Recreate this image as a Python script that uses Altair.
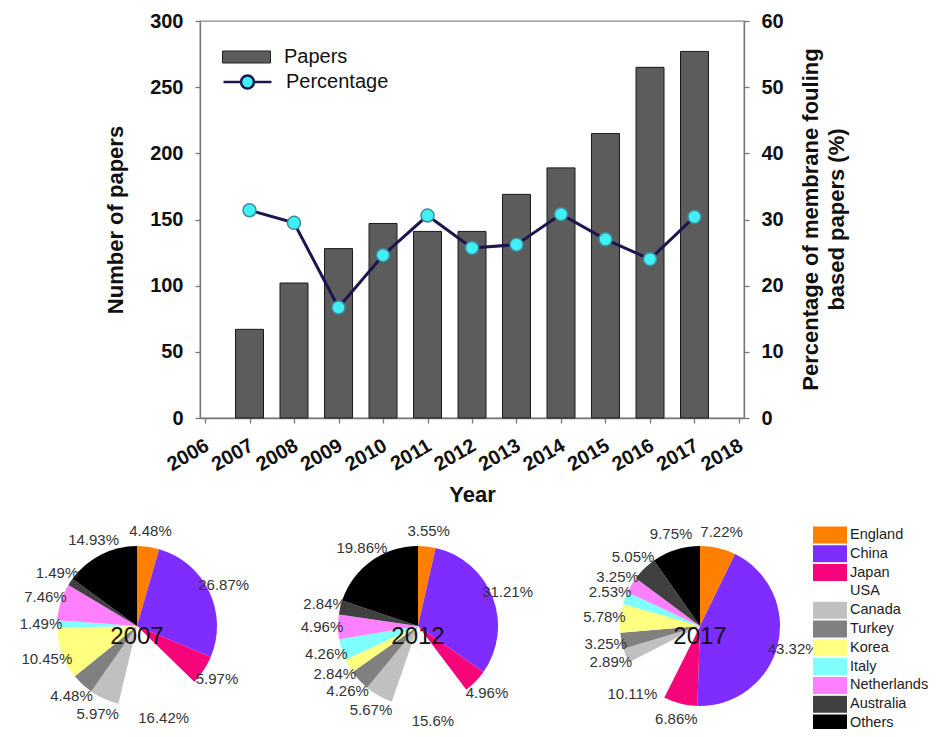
import altair as alt
import pandas as pd

# ---------------- data ----------------
years = list(range(2007, 2018))
papers = [67, 102, 128, 147, 141, 141, 169, 189, 215, 265, 277]
percentage = [31.4, 29.5, 16.7, 24.6, 30.6, 25.7, 26.2, 30.8, 27.0, 24.0, 30.4]
year_ticks = list(range(2006, 2019))
left_ticks = [0, 50, 100, 150, 200, 250, 300]
right_ticks = [0, 10, 20, 30, 40, 50, 60]

countries = ["England", "China", "Japan", "USA", "Canada", "Turkey",
             "Korea", "Italy", "Netherlands", "Australia", "Others"]
country_colors = ["#ff8000", "#7f2cff", "#f5047a", "#ffffff", "#c0c0c0", "#808080",
                  "#ffff80", "#80ffff", "#ff80ff", "#404040", "#000000"]
pie_years = [2007, 2012, 2017]
share_2007 = [4.48, 26.87, 5.97, 16.42, 5.97, 4.48, 10.45, 1.49, 7.46, 1.49, 14.93]
share_2012 = [3.55, 31.21, 4.96, 15.6, 5.67, 4.26, 2.84, 4.26, 4.96, 2.84, 19.86]
share_2017 = [7.22, 43.32, 6.86, 10.11, 2.89, 3.25, 5.78, 2.53, 3.25, 5.05, 9.75]

# ---------------- layout constants ----------------
W, H = 544, 397
PIE_CX = [-63, 218, 500]
PIE_CY = 605
PIE_R = 80
LABEL_R = 96

bar_df = pd.DataFrame({"Year": years, "Papers": papers, "series": ["Papers"] * len(years)})
line_df = pd.DataFrame({"Year": years, "Percentage": percentage,
                        "series": ["Percentage"] * len(years)})

x_enc = alt.X(
    "Year:Q",
    scale=alt.Scale(domain=[2006, 2018], nice=False, zero=False),
    axis=alt.Axis(values=year_ticks, format="d", title="Year",
                  labelAngle=330, labelAlign="right", labelBaseline="top",
                  labelFontSize=20, labelFontWeight="bold", labelColor="#111",
                  labelPadding=12, labelOffset=-3, tickSize=5, titleFontSize=22,
                  titleFontWeight="bold", titleColor="#111", titlePadding=10,
                  labelOverlap=False),
)

bars = alt.Chart(bar_df).mark_bar(size=28, stroke="#1a1a1a", strokeWidth=1).encode(
    x=x_enc,
    y=alt.Y("Papers:Q", scale=alt.Scale(domain=[0, 300], nice=False),
            axis=alt.Axis(orient="left", values=left_ticks, title="Number of papers",
                          labelFontSize=20, labelFontWeight="bold", labelColor="#111",
                          labelPadding=12, tickSize=5, titleFontSize=22,
                          titleFontWeight="bold", titleColor="#111", titlePadding=22)),
    fill=alt.Fill("series:N", scale=alt.Scale(domain=["Papers"], range=["#5c5c5c"]),
                  legend=alt.Legend(title=None, orient="none", legendX=22, legendY=26,
                                    symbolType="M-1,-0.25H1V0.25H-1Z", symbolSize=2304,
                                    symbolStrokeColor="#222", symbolStrokeWidth=1,
                                    labelFontSize=20, labelColor="#111", labelOffset=13,
                                    clipHeight=20, padding=0)),
)

line = alt.Chart(line_df).mark_line(strokeWidth=3).encode(
    x=x_enc,
    y=alt.Y("Percentage:Q", scale=alt.Scale(domain=[0, 60], nice=False),
            axis=alt.Axis(orient="right", values=right_ticks,
                          title=["Percentage of membrane fouling", "based papers (%)"],
                          labelFontSize=20, labelFontWeight="bold", labelColor="#111",
                          labelPadding=12, tickSize=5, titleFontSize=22,
                          titleFontWeight="bold", titleColor="#111", titleAngle=270,
                          titleBaseline="top", titleX=56, titleY=198,
                          titleLineHeight=26)),
    stroke=alt.Stroke("series:N", scale=alt.Scale(domain=["Percentage"], range=["#1c1650"]),
                      legend=alt.Legend(title=None, orient="none", legendX=22, legendY=51,
                                        symbolType="M-1,0H-0.27M0.27,0H1M0.27,0A0.27,0.27,0,1,1,-0.27,0A0.27,0.27,0,1,1,0.27,0Z",
                                        symbolSize=2304, symbolStrokeWidth=2.5,
                                        symbolFillColor="#3ff0f5",
                                        labelFontSize=20, labelColor="#111", labelOffset=13,
                                        clipHeight=20, padding=0)),
)

points = alt.Chart(line_df).mark_circle(size=170, color="#3ff0f5", opacity=1,
                                        stroke="#3d8f9c", strokeWidth=1.5).encode(
    x=x_enc,
    y=alt.Y("Percentage:Q", scale=alt.Scale(domain=[0, 60], nice=False), axis=None),
)

color_scale = alt.Scale(domain=countries, range=country_colors)
pie_layers = []
for i, (yr, shares) in enumerate(zip(pie_years, [share_2007, share_2012, share_2017])):
    df = pd.DataFrame({"country": countries, "share": shares, "idx": list(range(len(countries))),
                       "label": [f"{v}%" for v in shares]})
    cx = PIE_CX[i]
    base = alt.Chart(df).encode(
        theta=alt.Theta("share:Q", stack=True),
        order=alt.Order("idx:Q"),
        x=alt.value(cx), y=alt.value(PIE_CY),
    )
    if i == 0:
        col = alt.Color("country:N", scale=color_scale,
                        legend=alt.Legend(title=None, orient="none", legendX=613, legendY=505,
                                          symbolType="M-1,-0.5H1V0.5H-1Z", symbolSize=1156,
                                          symbolStrokeWidth=0, labelFontSize=14.5,
                                          labelColor="#222", labelOffset=3, labelLimit=200,
                                          clipHeight=18, rowPadding=0.8, padding=0))
    else:
        col = alt.Color("country:N", scale=color_scale)
    arc = base.mark_arc(outerRadius=PIE_R).encode(color=col)
    txt = base.mark_text(radius=LABEL_R, fontSize=15, color="#333").encode(
        text="label:N", detail="country:N")
    ylab = alt.Chart(pd.DataFrame({"year": [str(yr)]})).mark_text(
        fontSize=24, color="#111", dy=11).encode(
        text="year:N", x=alt.value(cx), y=alt.value(PIE_CY))
    pie_layers += [arc, txt, ylab]

chart = alt.layer(bars, line, points, *pie_layers).resolve_scale(
    y="independent"
).properties(
    width=W, height=H,
    autosize=alt.AutoSizeParams(type="none"),
    padding={"left": 192, "top": 13, "right": 185, "bottom": 311},
).configure(font="Liberation Sans").configure_view(
    stroke="#888", strokeWidth=1.3
).configure_axis(
    grid=False, domainColor="#777", domainWidth=1.3, tickColor="#777", tickWidth=1.3
)

chart.save("out.html", embed_options={"renderer": "svg", "actions": False})
